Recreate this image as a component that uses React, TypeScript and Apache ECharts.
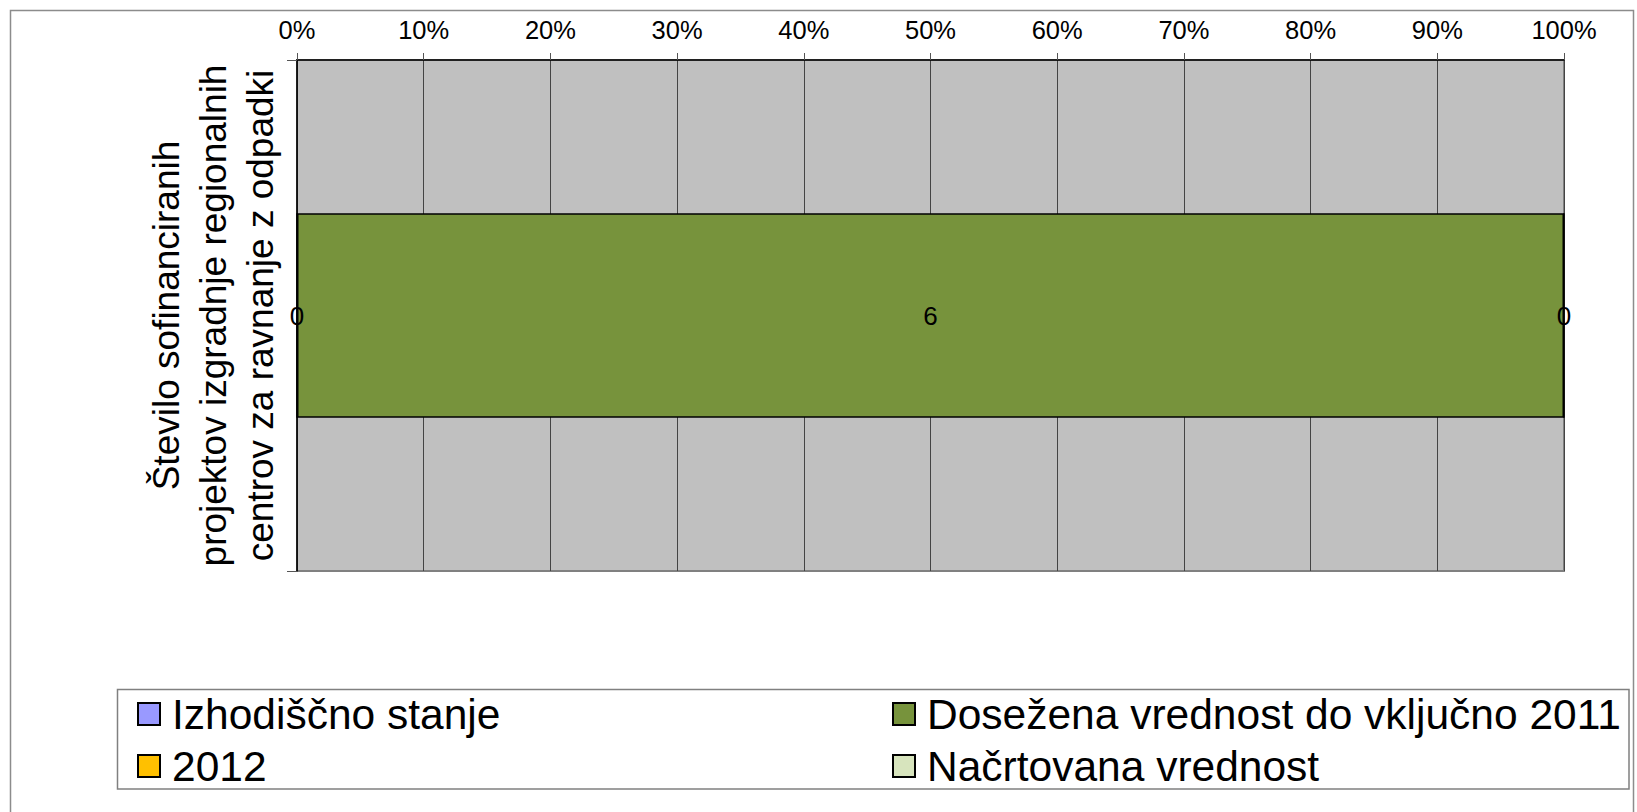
import React, { useEffect, useRef } from "react";
import * as echarts from "echarts";

const categories = ["Število sofinanciranih\nprojektov izgradnje regionalnih\ncentrov za ravnanje z odpadki"];
const seriesNames = ["Izhodiščno stanje", "Dosežena vrednost do vključno 2011", "2012", "Načrtovana vrednost"];
const izhodiscno = [0];
const dosezena = [6];
const leto2012 = [0];
const nacrtovana: (number | null)[] = [null];
const seriesColors = ["#9999FF", "#77933C", "#FFC000", "#D7E4BD"];
const tickValues = [0, 10, 20, 30, 40, 50, 60, 70, 80, 90, 100];

const FONT = "'Liberation Sans', Arial, sans-serif";

export default function App() {
  const ref = useRef<HTMLDivElement>(null);
  useEffect(() => {
    if (!ref.current) return;
    const chart = echarts.init(ref.current, null, { renderer: "svg" });
    const raw = [izhodiscno, dosezena, leto2012, nacrtovana];
    const totals = categories.map((_, i) =>
      raw.reduce((s, arr) => s + (arr[i] == null ? 0 : (arr[i] as number)), 0)
    );
    const series = raw.map((arr, si) => ({
      name: seriesNames[si],
      type: "bar",
      stack: "total",
      barWidth: "40%",
      data: arr.map((v, i) =>
        v == null ? null : { value: totals[i] ? ((v as number) / totals[i]) * 100 : 0, raw: v }
      ),
      itemStyle: { color: seriesColors[si], borderColor: "#000", borderWidth: 1.5 },
      label: {
        show: true,
        position: "inside",
        color: "#000",
        fontFamily: FONT,
        fontSize: 26,
        formatter: (p: any) => String(p.data.raw),
      },
    }));
    const legendCommon = {
      orient: "vertical",
      padding: 0,
      itemWidth: 22,
      itemHeight: 22,
      itemGap: 8,
      icon: "rect",
      itemStyle: { borderColor: "#000", borderWidth: 2 },
      textStyle: { fontFamily: FONT, fontSize: 42.5, lineHeight: 44, color: "#000", padding: [0, 0, 0, 7] },
      selectedMode: false,
    };
    chart.setOption({
      animation: false,
      backgroundColor: "#fff",
      grid: {
        left: 297,
        top: 60,
        width: 1267,
        height: 511,
        show: true,
        backgroundColor: "#C0C0C0",
        borderColor: "#808080",
        borderWidth: 2,
      },
      xAxis: {
        type: "value",
        position: "top",
        min: 0,
        max: 100,
        interval: 10,
        axisLine: { show: true, lineStyle: { color: "#000", width: 1.5 } },
        axisTick: { show: true, length: 7, lineStyle: { color: "#555" } },
        splitLine: { show: true, lineStyle: { color: "#444", width: 1 } },
        axisLabel: {
          formatter: (v: number) => (tickValues.includes(v) ? v + "%" : ""),
          fontFamily: FONT,
          fontSize: 25.5,
          color: "#000",
          margin: 17,
        },
      },
      yAxis: {
        type: "category",
        data: categories,
        axisLine: { show: true, lineStyle: { color: "#000", width: 1.5 } },
        axisTick: { show: true, length: 10, lineStyle: { color: "#555" } },
        axisLabel: {
          rotate: 90,
          interval: 0,
          fontFamily: FONT,
          fontSize: 37,
          lineHeight: 47,
          color: "#000",
          margin: 13,
          align: "center",
        },
      },
      legend: [
        { ...legendCommon, left: 137, top: 692, data: [seriesNames[0], seriesNames[2]] },
        { ...legendCommon, left: 892, top: 692, data: [seriesNames[1], seriesNames[3]] },
      ],
      graphic: [
        {
          type: "rect",
          shape: { x: 10.5, y: 10.5, width: 1623, height: 810 },
          style: { fill: "none", stroke: "#8c8c8c", lineWidth: 1.5 },
          silent: true,
        },
        {
          type: "rect",
          shape: { x: 117.5, y: 689.5, width: 1511.5, height: 99.5 },
          style: { fill: "none", stroke: "#808080", lineWidth: 1.5 },
          silent: true,
        },
      ],
      series,
    });
    return () => chart.dispose();
  }, []);
  return (
    <div
      ref={ref}
      style={{ position: "fixed", left: 0, top: 0, width: 1637, height: 812 }}
    />
  );
}
